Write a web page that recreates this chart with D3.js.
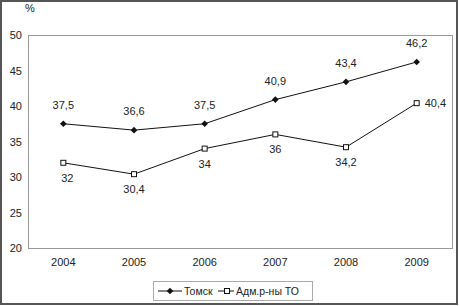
<!DOCTYPE html>
<html>
<head>
<meta charset="utf-8">
<script src="https://cdn.jsdelivr.net/npm/d3@7"></script>
<style>
    body { margin: 0; background: #fff; }
    svg { display: block; font-family: "Liberation Sans", Arial, sans-serif; }
</style>
</head>
<body>
<div id="vis"></div>
<script>
// data
var years = ['2004', '2005', '2006', '2007', '2008', '2009'];
var tomsk = [37.5, 36.6, 37.5, 40.9, 43.4, 46.2];
var admTO = [32, 30.4, 34, 36, 34.2, 40.4];
var yTicks = [20, 25, 30, 35, 40, 45, 50];
var seriesNames = ['Томск', 'Адм.р-ны ТО'];

var W = 459, H = 306;
var plot = { left: 28, top: 35, right: 452, bottom: 248 };

var svg = d3.select('#vis').append('svg')
    .attr('width', W)
    .attr('height', H);

// outer frame
svg.append('rect')
    .attr('x', 1).attr('y', 1)
    .attr('width', W - 3).attr('height', H - 3)
    .attr('fill', 'none')
    .attr('stroke', '#555')
    .attr('stroke-width', 2);

var x = d3.scaleBand()
    .domain(years)
    .range([plot.left, plot.right]);
var y = d3.scaleLinear()
    .domain([20, 50])
    .range([plot.bottom, plot.top]);

// plot area border
svg.append('rect')
    .attr('x', plot.left + 0.5).attr('y', plot.top + 0.5)
    .attr('width', plot.right - plot.left).attr('height', plot.bottom - plot.top)
    .attr('fill', 'none')
    .attr('stroke', '#999')
    .attr('stroke-width', 1);

// y axis labels
var yAxis = d3.axisLeft(y).tickValues(yTicks).tickSize(0).tickPadding(6);
var gy = svg.append('g')
    .attr('transform', 'translate(' + plot.left + ',0)')
    .call(yAxis);
gy.select('.domain').remove();
gy.selectAll('text').attr('font-size', 11).attr('fill', '#222')
    .attr('font-family', '"Liberation Sans", Arial, sans-serif');

// x axis labels
var xAxis = d3.axisBottom(x).tickSize(0).tickPadding(10);
var gx = svg.append('g')
    .attr('transform', 'translate(0,' + plot.bottom + ')')
    .call(xAxis);
gx.select('.domain').remove();
gx.selectAll('text').attr('font-size', 11).attr('fill', '#222')
    .attr('font-family', '"Liberation Sans", Arial, sans-serif');

// unit label
svg.append('text')
    .attr('x', 25).attr('y', 12)
    .attr('font-size', 11).attr('fill', '#222')
    .text('%');

var cx = function(d, i) { return x(years[i]) + x.bandwidth() / 2; };

var line = d3.line()
    .x(function(d, i) { return cx(d, i); })
    .y(function(d) { return y(d); });

// lines
svg.append('path').datum(tomsk)
    .attr('d', line).attr('fill', 'none')
    .attr('stroke', '#111').attr('stroke-width', 1);
svg.append('path').datum(admTO)
    .attr('d', line).attr('fill', 'none')
    .attr('stroke', '#111').attr('stroke-width', 1);

var diamond = d3.symbol().type(d3.symbolDiamond2).size(28);

// markers
svg.selectAll('.tm').data(tomsk).enter()
    .append('path').attr('class', 'tm')
    .attr('d', diamond)
    .attr('transform', function(d, i) { return 'translate(' + cx(d, i) + ',' + y(d) + ')'; })
    .attr('fill', '#111');

svg.selectAll('.am').data(admTO).enter()
    .append('rect').attr('class', 'am')
    .attr('x', function(d, i) { return cx(d, i) - 2.5; })
    .attr('y', function(d) { return y(d) - 2.5; })
    .attr('width', 5).attr('height', 5)
    .attr('fill', '#fff').attr('stroke', '#111').attr('stroke-width', 1);

var fmt = function(v) { return String(v).replace('.', ','); };

// value labels
svg.selectAll('.tl').data(tomsk).enter()
    .append('text').attr('class', 'tl')
    .attr('x', cx)
    .attr('y', function(d) { return y(d) - 15; })
    .attr('text-anchor', 'middle')
    .attr('font-size', 11).attr('fill', '#222')
    .text(fmt);

svg.selectAll('.al').data(admTO).enter()
    .append('text').attr('class', 'al')
    .attr('x', function(d, i) { return i == admTO.length - 1 ? cx(d, i) + 8 : cx(d, i) + (i == 0 ? 4 : 0); })
    .attr('y', function(d, i) { return i == admTO.length - 1 ? y(d) + 4 : y(d) + 19; })
    .attr('text-anchor', function(d, i) { return i == admTO.length - 1 ? 'start' : 'middle'; })
    .attr('font-size', 11).attr('fill', '#222')
    .text(fmt);

// legend
var lg = svg.append('g');
lg.append('rect')
    .attr('x', 153.5).attr('y', 281.5)
    .attr('width', 159).attr('height', 19)
    .attr('fill', '#fff').attr('stroke', '#aaa');

var ly = 291;
lg.append('line').attr('x1', 158).attr('x2', 182).attr('y1', ly).attr('y2', ly)
    .attr('stroke', '#111');
lg.append('path').attr('d', diamond)
    .attr('transform', 'translate(170,' + ly + ')').attr('fill', '#111');
lg.append('text').attr('x', 184).attr('y', ly + 4)
    .attr('font-size', 10.5).attr('fill', '#222').text(seriesNames[0]);

lg.append('line').attr('x1', 218).attr('x2', 234).attr('y1', ly).attr('y2', ly)
    .attr('stroke', '#111');
lg.append('rect').attr('x', 224.5).attr('y', ly - 2.5)
    .attr('width', 5).attr('height', 5)
    .attr('fill', '#fff').attr('stroke', '#111');
lg.append('text').attr('x', 236).attr('y', ly + 4)
    .attr('font-size', 10.5).attr('fill', '#222').text(seriesNames[1]);
</script>
</body>
</html>
